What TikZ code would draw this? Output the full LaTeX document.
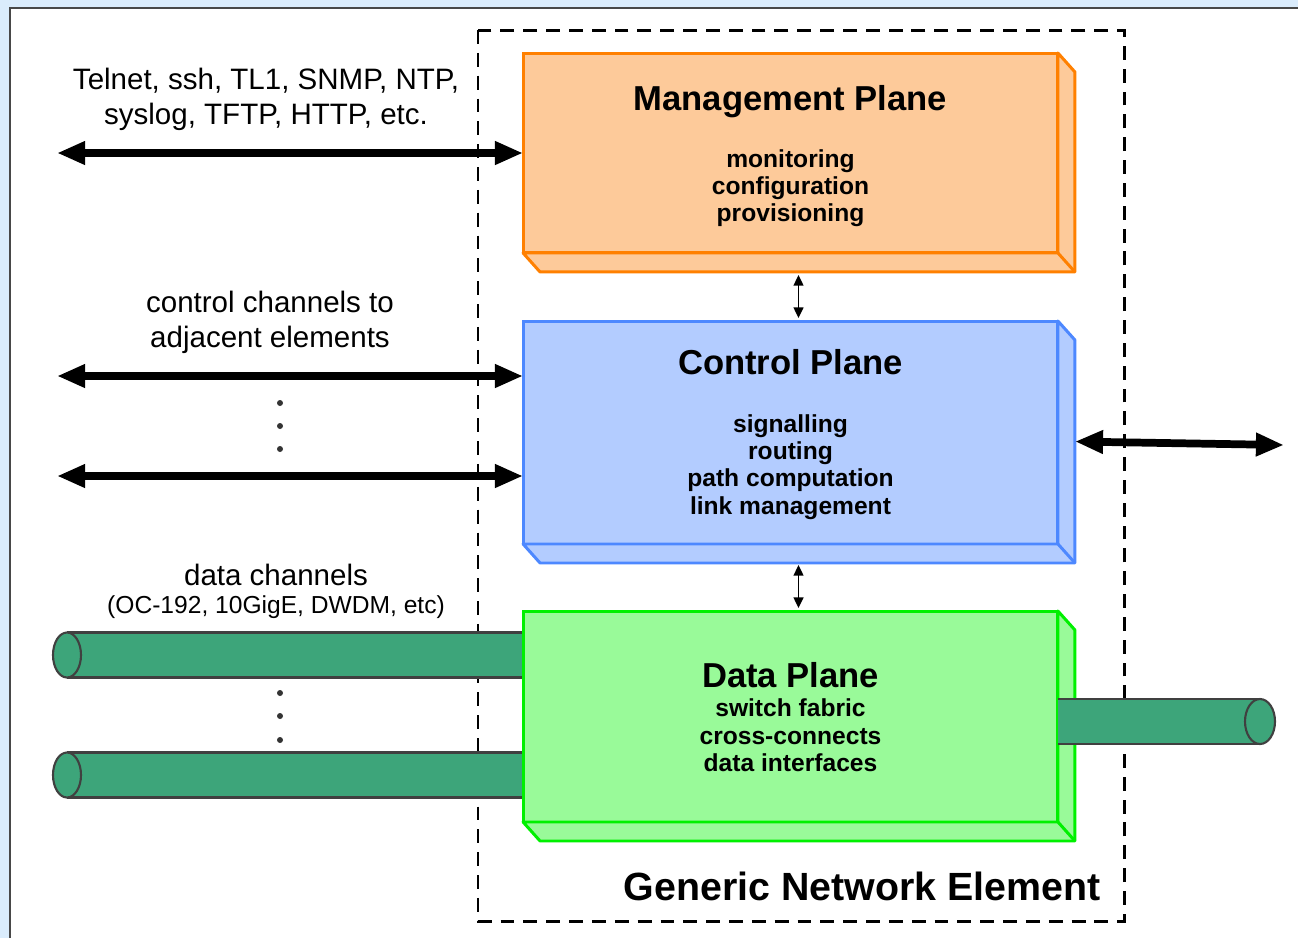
\documentclass[tikz,border=0pt]{standalone}
\usepackage{fontspec}
\setmainfont{Liberation Sans}
\usetikzlibrary{arrows.meta,calc}

\definecolor{mgmtfill}{RGB}{253,202,154}
\definecolor{mgmtline}{RGB}{255,128,0}
\definecolor{ctrlfill}{RGB}{179,204,255}
\definecolor{ctrlline}{RGB}{77,136,255}
\definecolor{datafill}{RGB}{153,250,153}
\definecolor{dataline}{RGB}{0,240,0}
\definecolor{cablefill}{RGB}{61,165,122}
\definecolor{cableline}{RGB}{64,64,64}
\definecolor{pagebg}{RGB}{218,236,252}
\definecolor{framegray}{RGB}{72,72,72}

\newcommand{\planetitle}{\fontsize{19.7}{22}\selectfont\bfseries}

\begin{document}
\begin{tikzpicture}[x=0.02cm,y=-0.02cm,
  planebox/.style={draw,line width=1.7pt,minimum width=10.7cm,inner sep=0pt,outer sep=0pt},
  planetext/.style={align=center,inner sep=0pt,font=\fontsize{14}{15.5}\selectfont\bfseries},
  faces/.style={line width=1.7pt,line join=round},
  chanlabel/.style={align=center,font=\fontsize{16.8}{19.9}\selectfont},
  bigarrow/.style={line width=4.4pt,{Triangle[length=16pt,width=12.5pt]}-{Triangle[length=16pt,width=12.5pt]}},
  smallarrow/.style={line width=1.1pt,{Triangle[length=6pt,width=5.5pt]}-{Triangle[length=6pt,width=5.5pt]}},
  cable/.style={fill=cablefill,draw=cableline,line width=1.2pt},
  dot/.style={fill=black!80}]
\useasboundingbox (0,0) rectangle (1298,938);
\fill[pagebg] (0,0) rectangle (1298,938);
\fill[white] (10,8) rectangle (1298,938);
\draw[framegray,line width=1.2pt] (10,938) -- (10,8) -- (1298,8);
\draw[line width=1.7pt,dash pattern=on 7.9pt off 5.1pt] (478,30) rectangle (1124,921);
% cables into the data plane
\fill[cablefill] (67,632.5) rectangle (523,677.5);
\draw[cableline,line width=1.2pt] (67,632.5) -- (523,632.5) (67,677.5) -- (523,677.5);
\filldraw[cable] (67,655) ellipse [x radius=14,y radius=22.5];
\fill[cablefill] (67,752.5) rectangle (523,797.5);
\draw[cableline,line width=1.2pt] (67,752.5) -- (523,752.5) (67,797.5) -- (523,797.5);
\filldraw[cable] (67,775) ellipse [x radius=14,y radius=22.5];
% planes
\node[planebox,fill=mgmtfill,draw=mgmtline,minimum height=4cm] (mgmt) at (790.5,153) {};
\filldraw[faces,fill=mgmtfill,draw=mgmtline] (mgmt.north east) -- ++(17,19) -- ($(mgmt.south east)+(17,19)$)
  -- ($(mgmt.south west)+(17,19)$) -- (mgmt.south west) -- (mgmt.south east) -- cycle;
\draw[faces,mgmtline] (mgmt.south east) -- ++(17,19);
\node[planetext] (mgmttext) at ($(mgmt.center)+(0,3)$)
  {{\planetitle Management Plane}\\[17pt] monitoring\\ configuration\\ provisioning};
\node[planebox,fill=ctrlfill,draw=ctrlline,minimum height=4.46cm] (ctrl) at (790.5,432.5) {};
\filldraw[faces,fill=ctrlfill,draw=ctrlline] (ctrl.north east) -- ++(17,19) -- ($(ctrl.south east)+(17,19)$)
  -- ($(ctrl.south west)+(17,19)$) -- (ctrl.south west) -- (ctrl.south east) -- cycle;
\draw[faces,ctrlline] (ctrl.south east) -- ++(17,19);
\node[planetext] (ctrltext) at ($(ctrl.center)+(0,2)$)
  {{\planetitle Control Plane}\\[17.4pt] signalling\\ routing\\ path computation\\ link management};
\node[planebox,fill=datafill,draw=dataline,minimum height=4.22cm] (data) at (790.5,716.5) {};
\filldraw[faces,fill=datafill,draw=dataline] (data.north east) -- ++(17,19) -- ($(data.south east)+(17,19)$)
  -- ($(data.south west)+(17,19)$) -- (data.south west) -- (data.south east) -- cycle;
\draw[faces,dataline] (data.south east) -- ++(17,19);
\node[planetext] (datatext) at ($(data.center)+(0,0.5)$)
  {{\planetitle Data Plane}\\[1.3pt] switch fabric\\ cross-connects\\ data interfaces};
% cable out of the data plane
\fill[cablefill] (1058,699) rectangle (1260,744);
\draw[cableline,line width=1.2pt] (1058,699) -- (1260,699) (1058,744) -- (1260,744);
\filldraw[cable] (1260,721.5) ellipse [x radius=15,y radius=22.5];
% connectors
\coordinate (mgmtL) at (57,153);
\coordinate (ctrlA) at (57,376);
\coordinate (ctrlB) at (57,476);
\coordinate (ctrlR) at (1284,445);
\draw[bigarrow] (mgmtL) -- (mgmtL -| mgmt.west);
\draw[bigarrow] (ctrlA) -- (ctrlA -| ctrl.west);
\draw[bigarrow] (ctrlB) -- (ctrlB -| ctrl.west);
\draw[bigarrow] ($(ctrl.east)+(17,9)$) -- (ctrlR);
\draw[smallarrow] ($(mgmt.south)+(8,22)$) -- ($(ctrl.north)+(8,-3)$);
\draw[smallarrow] ($(ctrl.south)+(8,21)$) -- ($(data.north)+(8,-3)$);
\fill[dot] (280,403) circle (3);
\fill[dot] (280,426) circle (3);
\fill[dot] (280,449) circle (3);
\fill[dot] (280,693) circle (3);
\fill[dot] (280,716) circle (3);
\fill[dot] (280,740) circle (3);
% labels
\node[chanlabel] (mgmtlbl) at (266,99.5) {Telnet, ssh, TL1, SNMP, NTP,\\ syslog, TFTP, HTTP, etc.};
\node[chanlabel] (ctrllbl) at (270,322.5) {control channels to\\ adjacent elements};
\node[chanlabel] (datalbl) at (276,575) {data channels};
\node[font=\fontsize{14}{16}\selectfont] (datasub) at (276,607.5) {(OC-192, 10GigE, DWDM, etc)};
\node[font=\fontsize{22.4}{26}\selectfont\bfseries] (gne) at (862,886) {Generic Network Element};
\end{tikzpicture}
\end{document}
